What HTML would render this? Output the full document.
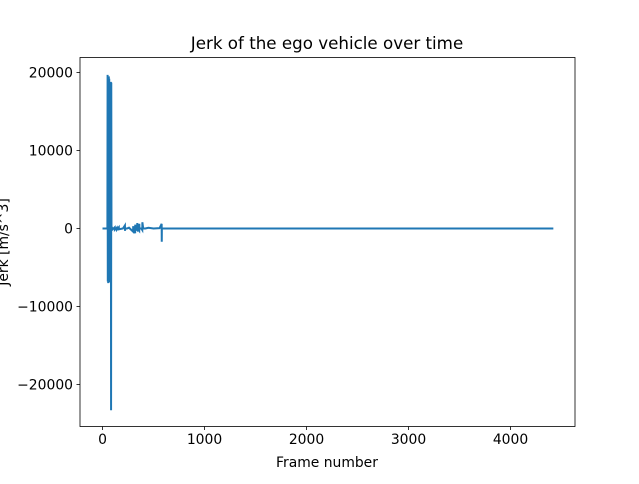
<!DOCTYPE html>
<html><head><meta charset="utf-8"><style>
body{margin:0;background:#fff;font-family:"Liberation Sans","DejaVu Sans",sans-serif;}
svg text{font-family:"DejaVu Sans","Liberation Sans",sans-serif;font-size:13.9px;fill:#000;}
</style></head><body>
<svg id="chart" width="639" height="479" viewBox="0 0 639 479" xmlns="http://www.w3.org/2000/svg">
<rect width="639" height="479" fill="#fff"/>
<text x="327" y="49" text-anchor="middle" style="font-size:16.7px">Jerk of the ego vehicle over time</text>
<g id="plot"></g>
<rect x="80" y="57.5" width="495" height="369" fill="none" stroke="#000" stroke-width="0.8"/>
<text x="327" y="467" text-anchor="middle">Frame number</text>
<text transform="translate(8,242) rotate(-90)" text-anchor="middle">Jerk [m/s^3]</text>
</svg>
<script>
const xTicks=[0,1000,2000,3000,4000];
const yTicks=[-20000,-10000,0,10000,20000];
const frames=[0,48,50,52,54,56,58,60,62,64,66,68,70,72,74,76,78,80,82,84,86,88,90,100,120,121,140,141,160,161,200,220,221,222,240,260,300,301,302,320,321,322,340,341,342,360,361,362,380,390,391,400,401,420,450,500,560,580,581,582,583,590,600,1000,2000,3000,4000,4420];
const jerk=[0,0,19700,-6800,19000,-7000,18500,-6500,19500,-6900,19200,-6800,18000,-6000,17500,-5000,10000,-3000,18800,-23300,18700,0,200,-100,150,-150,100,-150,150,-100,0,400,-300,0,0,100,-400,300,0,-600,500,0,-200,700,0,-300,600,0,0,-200,800,-100,0,0,100,0,50,600,-1700,0,0,0,0,0,0,0,0,0];
const X=v=>102.5+v*0.102, Y=v=>228.5-v*0.0078;
const svg=document.getElementById('chart'),plot=document.getElementById('plot'),NS='http://www.w3.org/2000/svg';
function mk(t,a,p){const e=document.createElementNS(NS,t);for(const k in a)e.setAttribute(k,a[k]);(p||svg).appendChild(e);return e;}
xTicks.forEach(v=>{
 const l=mk('line',{x1:X(v),x2:X(v),y1:426.5,y2:430,stroke:'#000','stroke-width':0.8});
 
 
 const t=mk('text',{x:X(v),y:444,'text-anchor':'middle'});t.textContent=v;
 
 
});
yTicks.forEach(v=>{
 const l=mk('line',{x1:76.5,x2:80,y1:Y(v),y2:Y(v),stroke:'#000','stroke-width':0.8});
 
 
 const t=mk('text',{x:73,y:Y(v)+5,'text-anchor':'end'});t.textContent=v<0?'\u2212'+(-v):v;
 
 
});
const pts=frames.map((f,i)=>X(f).toFixed(2)+','+Y(jerk[i]).toFixed(2)).join(' ');
const line=mk('polyline',{points:pts,fill:'none',stroke:'#1f77b4','stroke-width':2},plot);


</script>
</body></html>
